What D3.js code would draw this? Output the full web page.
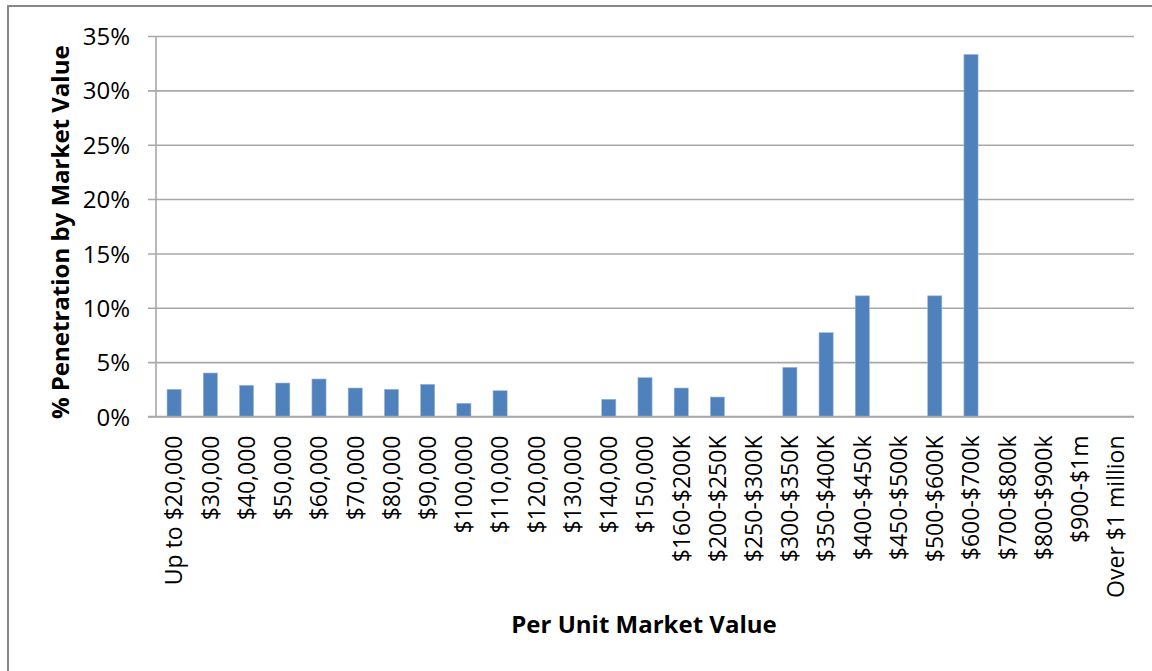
<!DOCTYPE html>
<html>
<head>
<meta charset="utf-8">
<script src="https://cdn.jsdelivr.net/npm/d3@7/dist/d3.min.js"></script>
<style>
  html, body { margin: 0; padding: 0; background: #fff; }
  svg { display: block; }
  text { font-family: "Open Sans", "Noto Sans", sans-serif; fill: #000; }
</style>
</head>
<body>
<svg id="chart" width="1152" height="671"></svg>
<script>
const categories = [
  "Up to $20,000", "$30,000", "$40,000", "$50,000", "$60,000", "$70,000",
  "$80,000", "$90,000", "$100,000", "$110,000", "$120,000", "$130,000",
  "$140,000", "$150,000", "$160-$200K", "$200-$250K", "$250-$300K",
  "$300-$350K", "$350-$400K", "$400-$450k", "$450-$500k", "$500-$600K",
  "$600-$700k", "$700-$800k", "$800-$900k", "$900-$1m", "Over $1 million"
];
const penetration = [
  2.5, 4.0, 2.87, 3.08, 3.45, 2.62,
  2.5, 2.96, 1.21, 2.37, 0, 0,
  1.58, 3.57, 2.62, 1.79, 0,
  4.52, 7.71, 11.1, 0, 11.1,
  33.3, 0, 0, 0, 0
];
const yTicks = [0, 5, 10, 15, 20, 25, 30, 35];
const yTitle = "% Penetration by Market Value";
const xTitle = "Per Unit Market Value";

const svg = d3.select("#chart");
const W = 1152, H = 671;

// outer chart border
svg.append("rect")
  .attr("x", 8).attr("y", 6)
  .attr("width", W + 10).attr("height", H + 10)
  .attr("fill", "none").attr("stroke", "#878787").attr("stroke-width", 2);

const plot = { left: 156, right: 1134, top: 36, bottom: 416.5 };

const x = d3.scaleBand()
  .domain(categories)
  .range([plot.left, plot.right])
  .paddingInner(0.61).paddingOuter(0.305);

const y = d3.scaleLinear()
  .domain([0, 35])
  .range([plot.bottom, plot.top]);

// gridlines + y axis
const yAxis = d3.axisLeft(y)
  .tickValues(yTicks)
  .tickSize(-(plot.right - plot.left))
  .tickFormat(d => d + "%");
const gy = svg.append("g")
  .attr("transform", `translate(${plot.left},0)`)
  .call(yAxis);
gy.select(".domain").remove();
gy.selectAll(".tick line")
  .attr("x1", -8)
  .attr("stroke", "#a8a8a8").attr("stroke-width", 1.6);
gy.selectAll(".tick text")
  .attr("x", -26).attr("dy", "0.36em")
  .style("font-size", "24px").style("font-family", "'Open Sans', sans-serif")
  .attr("fill", "#000");

// vertical axis line
svg.append("line")
  .attr("x1", plot.left).attr("x2", plot.left)
  .attr("y1", plot.top).attr("y2", plot.bottom)
  .attr("stroke", "#a8a8a8").attr("stroke-width", 1.6);

// bars
svg.append("g").selectAll("rect")
  .data(categories.map((c, i) => ({ c, v: penetration[i] })).filter(d => d.v > 0))
  .join("rect")
  .attr("x", d => x(d.c))
  .attr("width", x.bandwidth())
  .attr("y", d => y(d.v))
  .attr("height", d => y(0) - y(d.v))
  .attr("fill", "#4f81bd")
  .attr("stroke", "#9db6d8").attr("stroke-width", 0.6);

// x axis baseline
svg.append("line")
  .attr("x1", plot.left - 8).attr("x2", plot.right)
  .attr("y1", plot.bottom).attr("y2", plot.bottom)
  .attr("stroke", "#a8a8a8").attr("stroke-width", 1.6);

// x axis labels
const xAxis = d3.axisBottom(x).tickSize(0);
const gx = svg.append("g")
  .attr("transform", `translate(0,${plot.bottom})`)
  .call(xAxis);
gx.select(".domain").remove();
gx.selectAll(".tick text")
  .attr("transform", "rotate(-90)")
  .attr("x", -19).attr("y", 0).attr("dy", "0.36em")
  .attr("text-anchor", "end")
  .style("font-size", "23px").style("font-family", "'Open Sans', sans-serif")
  .attr("fill", "#000");

// axis titles
svg.append("text")
  .attr("transform", `translate(69,${(plot.top + plot.bottom) / 2 + 6}) rotate(-90)`)
  .attr("text-anchor", "middle")
  .style("font-size", "24px").style("font-weight", "bold")
  .text(yTitle);

svg.append("text")
  .attr("x", (plot.left + plot.right) / 2 - 1).attr("y", 633)
  .attr("text-anchor", "middle")
  .style("font-size", "24px").style("font-weight", "bold")
  .text(xTitle);
</script>
</body>
</html>
